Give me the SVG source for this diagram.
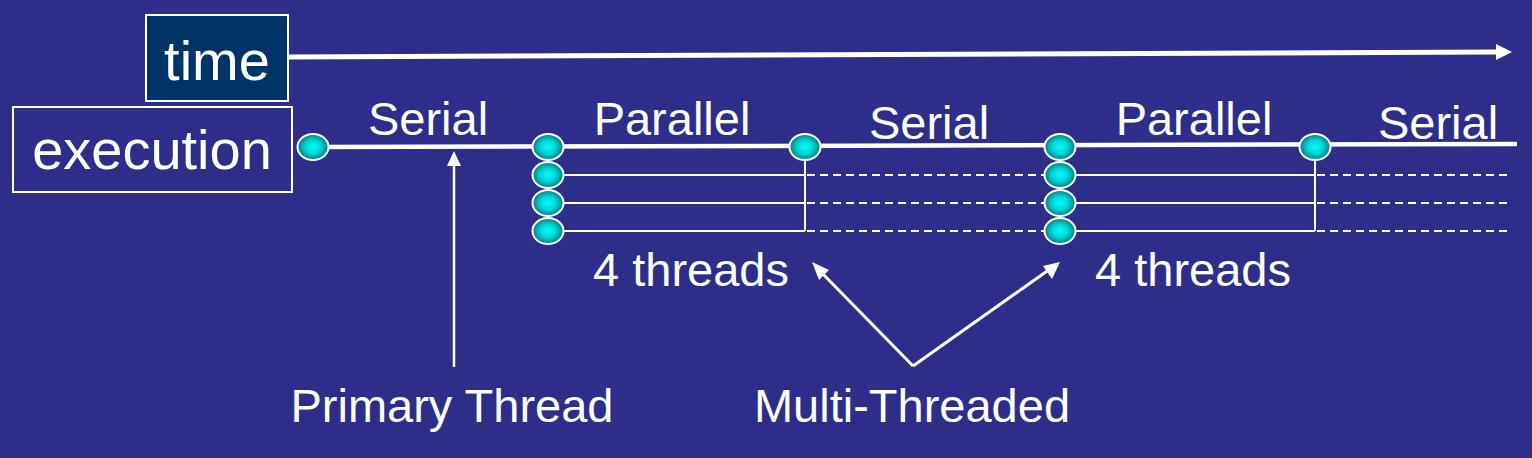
<svg xmlns="http://www.w3.org/2000/svg" width="1532" height="458" viewBox="0 0 1532 458">
<defs>
<radialGradient id="g" cx="50%" cy="50%" r="55%">
<stop offset="0" stop-color="#00FFFF"/>
<stop offset="0.45" stop-color="#00D6D6"/>
<stop offset="1" stop-color="#006E75"/>
</radialGradient>
</defs>
<style>
text{font-family:"Liberation Sans",Arial,sans-serif;fill:#FFFFFF;text-anchor:middle}
.lbl{font-size:47px}
.big{font-size:56px}
.node{fill:url(#g);stroke:#FFFFFF;stroke-width:2}
.thin{stroke:#FFFFFF;stroke-width:2;fill:none}
.dash{stroke:#FFFFFF;stroke-width:2;stroke-dasharray:8 5;fill:none}
</style>
<rect x="0" y="0" width="1532" height="458" fill="#2E2E8A"/>

<g id="connectors">
<path d="M288,57 L1498,52" stroke="#FFFFFF" stroke-width="5" fill="none"/>
<path d="M1496,44 L1512,52 L1496,60 z" fill="#FFFFFF"/>
<path d="M313,147 L1517,144" stroke="#FFFFFF" stroke-width="4.5" fill="none"/>
<path class="thin" d="M548,175 H805 M548,203 H805 M548,231 H805 M805,147 V231"/>
<path class="dash" d="M807,175 H1060 M807,203 H1060 M807,231 H1060"/>
<path class="thin" d="M1060,175 H1315 M1060,203 H1315 M1060,231 H1315 M1315,147 V231"/>
<path class="dash" d="M1317,175 H1512 M1317,203 H1512 M1317,231 H1512"/>
<path d="M454,367 L454,164" stroke="#FFFFFF" stroke-width="2.5" fill="none"/>
<path d="M454,151 L461,166 L447,166 z" fill="#FFFFFF"/>
<path d="M913,366 L820,271" stroke="#FFFFFF" stroke-width="3" fill="none"/>
<path d="M812,262 L829,270 L819,280 z" fill="#FFFFFF"/>
<path d="M913,366 L1050,269" stroke="#FFFFFF" stroke-width="3" fill="none"/>
<path d="M1060,262 L1052,279 L1043,266 z" fill="#FFFFFF"/>
</g>

<g id="time-box">
<rect x="146" y="15" width="142" height="86" fill="#003366" stroke="#FFFFFF" stroke-width="2"/>
<text class="big" x="217" y="80">time</text>
</g>
<g id="execution-box">
<rect x="13" y="107" width="279" height="85" fill="none" stroke="#FFFFFF" stroke-width="2"/>
<text class="big" x="152" y="169">execution</text>
</g>

<g id="start-node"><ellipse class="node" cx="313" cy="147" rx="15.5" ry="13"/></g>
<g id="fork1">
<ellipse class="node" cx="548" cy="147" rx="15.5" ry="13"/>
<ellipse class="node" cx="548" cy="175" rx="15.5" ry="13"/>
<ellipse class="node" cx="548" cy="203" rx="15.5" ry="13"/>
<ellipse class="node" cx="548" cy="231" rx="15.5" ry="13"/>
</g>
<g id="join1"><ellipse class="node" cx="805" cy="147" rx="15.5" ry="13"/></g>
<g id="fork2">
<ellipse class="node" cx="1060" cy="147" rx="15.5" ry="13"/>
<ellipse class="node" cx="1060" cy="175" rx="15.5" ry="13"/>
<ellipse class="node" cx="1060" cy="203" rx="15.5" ry="13"/>
<ellipse class="node" cx="1060" cy="231" rx="15.5" ry="13"/>
</g>
<g id="join2"><ellipse class="node" cx="1315" cy="147" rx="15.5" ry="13"/></g>

<g id="labels">
<text class="lbl" x="428" y="135">Serial</text>
<text class="lbl" x="672" y="135">Parallel</text>
<text class="lbl" x="929" y="139">Serial</text>
<text class="lbl" x="1194" y="135">Parallel</text>
<text class="lbl" x="1438" y="139">Serial</text>
<text class="lbl" x="691" y="286">4 threads</text>
<text class="lbl" x="1193" y="286">4 threads</text>
<text class="lbl" x="452" y="422">Primary Thread</text>
<text class="lbl" x="912" y="422">Multi-Threaded</text>
</g>
</svg>
